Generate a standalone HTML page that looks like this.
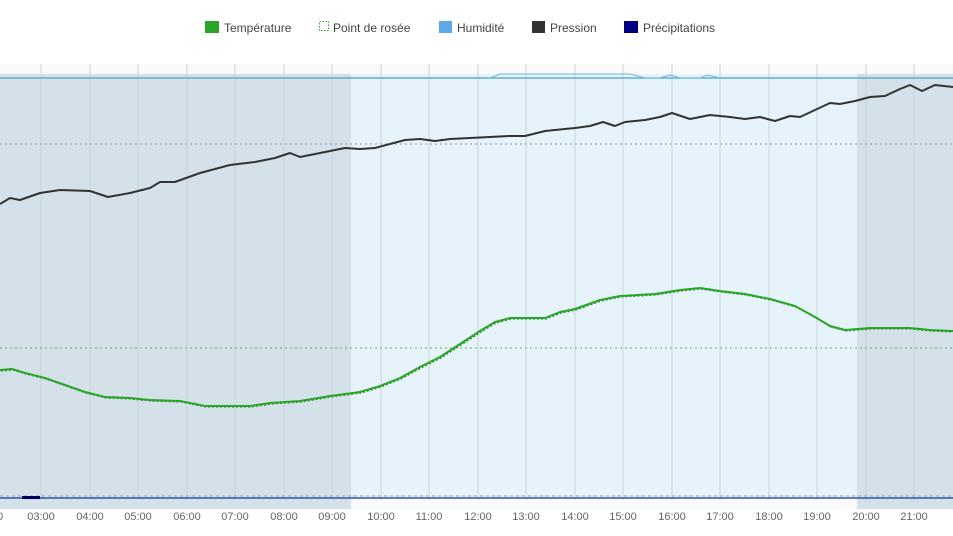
<!DOCTYPE html><html><head><meta charset="utf-8"><style>
body{margin:0;background:#fff;font-family:"Liberation Sans",sans-serif}
</style></head><body>
<svg width="953" height="536" xmlns="http://www.w3.org/2000/svg" style="display:block">
<g font-size="12" fill="#444">
<rect x="205" y="21" width="14" height="12" fill="#2aa52a"/><text x="224" y="32">Température</text>
<rect x="319.5" y="21.5" width="9" height="9" fill="none" stroke="#2aa52a" stroke-dasharray="1.5,1.5"/><text x="333" y="32">Point de rosée</text>
<rect x="439" y="21" width="13" height="12" fill="#5aaae8"/><text x="457" y="32">Humidité</text>
<rect x="532" y="21" width="13" height="12" fill="#333"/><text x="550" y="32">Pression</text>
<rect x="624" y="21" width="14" height="12" fill="#000080"/><text x="643" y="32">Précipitations</text>
</g>
<rect x="0" y="64" width="953" height="445" fill="#fafafa"/>
<rect x="0" y="74" width="351" height="435" fill="#d4e1e8"/>
<rect x="351" y="74" width="506" height="425" fill="#e6f3fa"/>
<rect x="857" y="74" width="96" height="435" fill="#d4e1e8"/>
<g stroke="#c8d4da" stroke-width="1">
<line x1="41" y1="64" x2="41" y2="500"/><line x1="90" y1="64" x2="90" y2="500"/><line x1="138" y1="64" x2="138" y2="500"/><line x1="187" y1="64" x2="187" y2="500"/><line x1="235" y1="64" x2="235" y2="500"/><line x1="284" y1="64" x2="284" y2="500"/><line x1="332" y1="64" x2="332" y2="500"/><line x1="381" y1="64" x2="381" y2="500"/><line x1="429" y1="64" x2="429" y2="500"/><line x1="478" y1="64" x2="478" y2="500"/><line x1="526" y1="64" x2="526" y2="500"/><line x1="575" y1="64" x2="575" y2="500"/><line x1="623" y1="64" x2="623" y2="500"/><line x1="672" y1="64" x2="672" y2="500"/><line x1="720" y1="64" x2="720" y2="500"/><line x1="769" y1="64" x2="769" y2="500"/><line x1="817" y1="64" x2="817" y2="500"/><line x1="866" y1="64" x2="866" y2="500"/><line x1="914" y1="64" x2="914" y2="500"/>
</g>
<line x1="0" y1="144" x2="953" y2="144" stroke="#999" stroke-dasharray="2,3"/>
<line x1="0" y1="348" x2="953" y2="348" stroke="#5cb85c" stroke-dasharray="2,3"/>
<line x1="0" y1="78" x2="953" y2="78" stroke="#4aa0d0" stroke-width="1.2"/>
<polyline fill="none" stroke="#6bb8d8" stroke-width="1" points="490,78 500,74 630,74 645,78 660,78 670,75 680,78 700,78 707,75 720,78"/>
<line x1="0" y1="498" x2="953" y2="498" stroke="#3355aa" stroke-width="1.5"/>
<line x1="0" y1="496" x2="953" y2="496" stroke="#8ab" stroke-dasharray="3,3"/>
<rect x="22" y="496" width="18" height="3" fill="#000060"/>
<polyline fill="none" stroke="#333" stroke-width="2" stroke-linejoin="round" points="0,204 10,198 20,200 40,193 60,190 90,191 108,197 130,193 150,188 160,182 175,182 200,173 230,165 255,162 275,158 290,153 300,157 320,153 345,148 360,149 375,148 390,144 405,140 420,139 435,141 450,139 470,138 490,137 510,136 525,136 545,131 575,128 590,126 603,122 615,126 625,122 645,120 660,117 672,113 690,119 710,115 730,117 745,119 760,117 775,121 790,116 800,117 815,110 830,103 840,104 855,101 870,97 885,96 900,89 910,85 922,91 935,85 953,87"/>
<polyline fill="none" stroke="#2a8a2a" stroke-width="1.3" stroke-dasharray="2,2" transform="translate(1,1)" points="0,370 12,369 25,373 45,378 65,385 85,392 105,397 130,398 150,400 180,401 205,406 250,406 270,403 300,401 330,396 360,392 380,386 400,378 420,367 440,357 460,344 480,331 495,322 510,318 545,318 560,312 575,309 600,300 620,296 655,294 680,290 700,288 720,291 745,294 770,299 795,306 815,317 830,326 845,330 870,328 910,328 930,330 953,331"/>
<polyline fill="none" stroke="#2aa52a" stroke-width="2" stroke-linejoin="round" points="0,370 12,369 25,373 45,378 65,385 85,392 105,397 130,398 150,400 180,401 205,406 250,406 270,403 300,401 330,396 360,392 380,386 400,378 420,367 440,357 460,344 480,331 495,322 510,318 545,318 560,312 575,309 600,300 620,296 655,294 680,290 700,288 720,291 745,294 770,299 795,306 815,317 830,326 845,330 870,328 910,328 930,330 953,331"/>
<g font-size="11" fill="#666" text-anchor="middle">
<text x="0" y="520">0</text><text x="41" y="520">03:00</text><text x="90" y="520">04:00</text><text x="138" y="520">05:00</text><text x="187" y="520">06:00</text><text x="235" y="520">07:00</text><text x="284" y="520">08:00</text><text x="332" y="520">09:00</text><text x="381" y="520">10:00</text><text x="429" y="520">11:00</text><text x="478" y="520">12:00</text><text x="526" y="520">13:00</text><text x="575" y="520">14:00</text><text x="623" y="520">15:00</text><text x="672" y="520">16:00</text><text x="720" y="520">17:00</text><text x="769" y="520">18:00</text><text x="817" y="520">19:00</text><text x="866" y="520">20:00</text><text x="914" y="520">21:00</text><text x="958" y="520">2</text>
</g>
</svg>
</body></html>
